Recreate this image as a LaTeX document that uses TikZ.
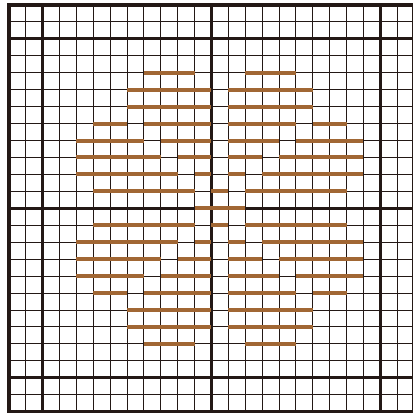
\documentclass[tikz,border=0pt]{standalone}
\definecolor{gridc}{RGB}{35,24,21}
\definecolor{stitchc}{RGB}{161,103,52}
\tikzset{
  thinline/.style={draw=gridc,line width=1pt},
  thickline/.style={draw=gridc,line width=3pt},
  borderline/.style={draw=gridc,line width=3.6pt},
  stitch/.style={draw=stitchc,line width=4pt,line cap=butt}
}
\begin{document}
\begin{tikzpicture}[x=16.88pt,y=-16.95pt]
\useasboundingbox (-0.5296,-0.2891) rectangle (23.937,24.136);
% thin grid lines
\foreach \i in {1,3,4,5,6,7,8,9,10,11,13,14,15,16,17,18,19,20,21,23}{
  \draw[thinline] (\i,0) -- (\i,24);
  \draw[thinline] (0,\i) -- (24,\i);
}
% thick grid lines
\foreach \i in {2,12,22}{
  \draw[thickline] (\i,0) -- (\i,24);
  \draw[thickline] (0,\i) -- (24,\i);
}
\draw[borderline] (0,0) rectangle (24,24);
% stitches (mirrored top/bottom)
\foreach \r/\a/\b in {4/8/11,4/14/17,
  5/7/12,5/13/18,
  6/7/12,6/13/18,
  7/5/7,7/8/12,7/13/17,7/18/20,
  8/4/8,8/9/12,8/13/16,8/17/21,
  9/4/9,9/10/12,9/13/15,9/16/21,
  10/4/10,10/11/12,10/13/14,10/15/21,
  11/5/11,11/12/13,11/14/20}{
  \draw[stitch] (\a,\r) -- (\b,\r);
  \draw[stitch] (\a,{24-\r}) -- (\b,{24-\r});
}
\draw[stitch] (11,12) -- (14,12);
\end{tikzpicture}
\end{document}
